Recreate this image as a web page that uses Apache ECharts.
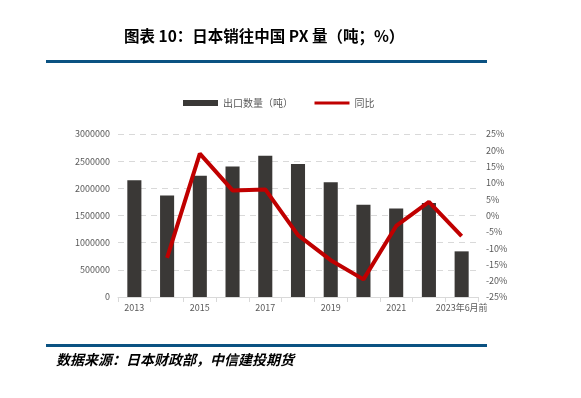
<!DOCTYPE html>
<html>
<head>
<meta charset="utf-8">
<script src="https://cdn.jsdelivr.net/npm/echarts@6/dist/echarts.min.js"></script>
<style>
html,body{margin:0;padding:0;background:#fff;}
#main{width:581px;height:398px;}
</style>
</head>
<body>
<div id="main"></div>
<script>
// 年份
var years = ['2013','2014','2015','2016','2017','2018','2019','2020','2021','2022','2023年6月前'];
// 出口数量（吨）
var exportQty = [2150000,1870000,2230000,2400000,2600000,2450000,2110000,1700000,1630000,1730000,840000];
// 同比（%），2013 无数据
var yoy = [null,-13,19,7.7,8,-6,-13.7,-19.6,-3.2,4.2,-6.3];

var myChart = echarts.init(document.getElementById('main'));
var font = '"Noto Sans CJK SC", "Liberation Sans", sans-serif';

var option = {
    animation:false,
    title:{
        text:'图表 10：日本销往中国 PX 量（吨；%）',
        left:119,
        top:23,
        textStyle:{
            fontFamily:font,
            fontWeight:'bold',
            fontSize:15.5,
            color:'#000'
        }
    },
    graphic:[
        {type:'rect',shape:{x:46,y:60,width:441,height:3},style:{fill:'#0B5282'}},
        {type:'rect',shape:{x:46,y:344,width:441,height:3},style:{fill:'#0B5282'}},
        {type:'text',left:56,top:353,style:{
            text:'数据来源：日本财政部，中信建投期货',
            font:'italic bold 14px "Noto Sans CJK SC", sans-serif',
            fill:'#000'
        }}
    ],
    legend:{
        top:93,
        left:178,
        itemGap:20,
        itemWidth:35,
        itemHeight:6,
        textStyle:{fontFamily:font,fontSize:10,color:'#595959'},
        data:[
            {name:'出口数量（吨）',icon:'rect'},
            {name:'同比',itemStyle:{opacity:0},lineStyle:{width:3,color:'#C00000'}}
        ]
    },
    grid:{left:118,right:103,top:134,bottom:101},
    xAxis:{
        type:'category',
        data:years,
        axisLine:{lineStyle:{color:'#d9d9d9'}},
        axisTick:{show:true,alignWithLabel:false,interval:0,lineStyle:{color:'#d9d9d9'}},
        axisLabel:{interval:1,color:'#595959',fontSize:9,fontFamily:font,margin:6}
    },
    yAxis:[
        {
            type:'value',
            min:0,max:3000000,interval:500000,
            axisLine:{show:false},
            axisTick:{show:false},
            splitLine:{lineStyle:{color:'#d9d9d9',type:[6,5],width:1}},
            axisLabel:{color:'#595959',fontSize:9,fontFamily:font,margin:8,
                formatter:function(v){return String(v);}}
        },
        {
            type:'value',
            min:-25,max:25,interval:5,
            axisLine:{show:false},
            axisTick:{show:false},
            splitLine:{show:false},
            axisLabel:{color:'#595959',fontSize:9,fontFamily:font,margin:8,formatter:'{value}%'}
        }
    ],
    series:[
        {
            name:'出口数量（吨）',
            type:'bar',
            data:exportQty,
            barWidth:'43%',
            itemStyle:{color:'#3A3836'}
        },
        {
            name:'同比',
            type:'line',
            yAxisIndex:1,
            data:yoy,
            symbol:'none',
            lineStyle:{color:'#C00000',width:4},
            itemStyle:{color:'#C00000'}
        }
    ]
};

myChart.setOption(option);
</script>
</body>
</html>
